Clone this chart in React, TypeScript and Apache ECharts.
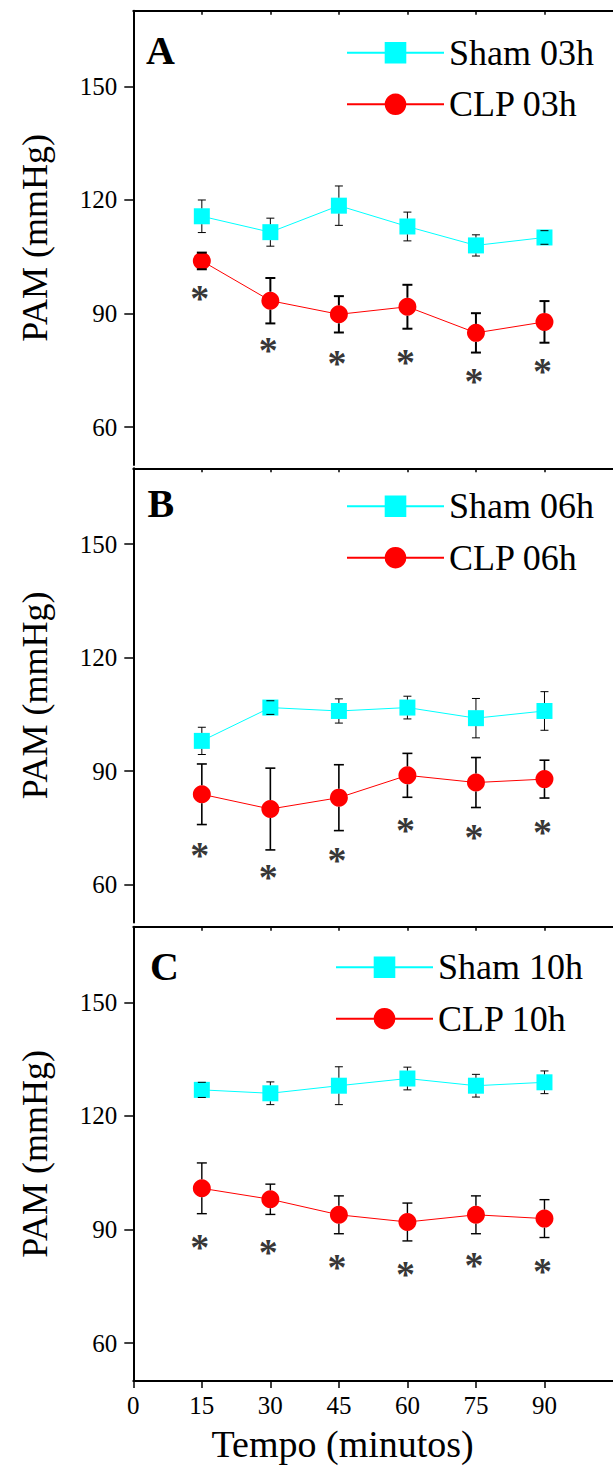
import React, { useEffect, useRef } from "react";
import * as echarts from "echarts";

// ---------- data ----------
const times = [15, 30, 45, 60, 75, 90];
const xTicks = [0, 15, 30, 45, 60, 75, 90];
const yTicks = [60, 90, 120, 150];

const panelLabels = ["A", "B", "C"];
const shamNames = ["Sham 03h", "Sham 06h", "Sham 10h"];
const clpNames = ["CLP 03h", "CLP 06h", "CLP 10h"];

// Panel A (03h)
const sham03 = [115.7, 111.5, 118.5, 113.0, 108.0, 110.1];
const sham03Err = [4.3, 3.7, 5.2, 3.8, 2.8, 1.8];
const clp03 = [103.9, 93.4, 89.8, 91.8, 84.9, 87.8];
const clp03Err = [2.2, 6.0, 4.8, 5.8, 5.2, 5.5];
const star03 = [95.7, 82.0, 78.5, 78.9, 73.7, 76.3];

// Panel B (06h)
const sham06 = [98.0, 106.8, 105.9, 106.8, 104.0, 105.9];
const sham06Err = [3.6, 1.8, 3.2, 3.0, 5.2, 5.1];
const clp06 = [83.9, 80.0, 83.0, 88.9, 87.0, 87.9];
const clp06Err = [8.0, 10.8, 8.7, 5.8, 6.6, 5.0];
const star06 = [69.4, 63.7, 68.1, 76.0, 74.3, 75.6];

// Panel C (10h)
const sham10 = [126.9, 126.0, 128.0, 129.9, 128.0, 128.9];
const sham10Err = [2.0, 3.0, 5.0, 3.0, 3.0, 3.0];
const clp10 = [100.9, 98.0, 93.9, 92.0, 93.9, 92.9];
const clp10Err = [6.7, 4.0, 5.0, 5.0, 5.0, 5.0];
const star10 = [87.1, 85.6, 81.6, 79.8, 82.3, 80.7];

const shamMeans = [sham03, sham06, sham10];
const shamErrs = [sham03Err, sham06Err, sham10Err];
const clpMeans = [clp03, clp06, clp10];
const clpErrs = [clp03Err, clp06Err, clp10Err];
const stars = [star03, star06, star10];

// ---------- layout ----------
const FONT = "'Liberation Serif', 'Times New Roman', serif";
const gridTops = [10.7, 468.3, 926.7];
const gridHeight = 454.3;
const gridLeft = 133.3;
const gridWidth = 514;
const legendTops = [34.8, 488.2, 949.2];
const legendLefts = [346, 346, 335];
const letterPos = [
  [146, 50.2],
  [147.5, 503.7],
  [150, 966.3],
];
const clpErrWidth = [2, 1.6, 1.4];

function makeErr(r: number, cap: number, w: number) {
  return (params: any, api: any) => {
    const x = api.value(0);
    const m = api.value(1);
    const e = api.value(2);
    const c = api.coord([x, m]);
    const t = api.coord([x, m + e]);
    const b = api.coord([x, m - e]);
    const style = { stroke: "#000", lineWidth: w, fill: "none" };
    const children: any[] = [];
    if (c[1] - t[1] > r) {
      children.push({ type: "line", shape: { x1: c[0], y1: t[1], x2: c[0], y2: c[1] - r }, style });
    }
    if (b[1] - c[1] > r) {
      children.push({ type: "line", shape: { x1: c[0], y1: c[1] + r, x2: c[0], y2: b[1] }, style });
    }
    children.push({ type: "line", shape: { x1: c[0] - cap, y1: t[1], x2: c[0] + cap, y2: t[1] }, style });
    children.push({ type: "line", shape: { x1: c[0] - cap, y1: b[1], x2: c[0] + cap, y2: b[1] }, style });
    return { type: "group", children };
  };
}

export default function App() {
  const ref = useRef<HTMLDivElement>(null);

  useEffect(() => {
    if (!ref.current) return;
    const chart = echarts.init(ref.current, undefined, { renderer: "svg" });

    const grid = gridTops.map((top) => ({
      left: gridLeft,
      top,
      width: gridWidth,
      height: gridHeight,
      containLabel: false,
    }));

    const bottomAxes = gridTops.map((_, i) => ({
      type: "value",
      gridIndex: i,
      position: "bottom",
      min: 0,
      max: 105,
      interval: 15,
      name: i === 2 ? "Tempo (minutos)" : "",
      nameLocation: "middle",
      nameGap: 44,
      nameTextStyle: {
        fontFamily: FONT,
        fontSize: 38,
        color: "#000",
        padding: [0, 61, 0, 0],
      },
      axisLine: { show: i === 2, onZero: false, lineStyle: { color: "#000", width: 2 } },
      axisTick: {
        show: i === 2,
        inside: false,
        length: 7,
        customValues: xTicks,
        lineStyle: { color: "#000", width: 1.5 },
      },
      axisLabel: {
        show: i === 2,
        customValues: xTicks,
        margin: 12,
        fontFamily: FONT,
        fontSize: 25,
        color: "#000",
      },
      splitLine: { show: false },
    }));

    const topAxes = gridTops.map((_, i) => ({
      type: "value",
      gridIndex: i,
      position: "top",
      min: 0,
      max: 105,
      interval: 15,
      axisLine: { show: true, onZero: false, lineStyle: { color: "#000", width: 2 } },
      axisTick: {
        show: true,
        inside: true,
        length: 4,
        customValues: xTicks,
        lineStyle: { color: "#000", width: 1.5 },
      },
      axisLabel: { show: false },
      splitLine: { show: false },
    }));

    const yAxes = gridTops.map((_, i) => ({
      type: "value",
      gridIndex: i,
      min: 50,
      max: 170,
      name: "PAM (mmHg)",
      nameLocation: "middle",
      nameGap: 80,
      nameTextStyle: { fontFamily: FONT, fontSize: 36, color: "#000" },
      axisLine: { show: true, onZero: false, lineStyle: { color: "#000", width: 2 } },
      axisTick: {
        show: true,
        inside: false,
        length: 9,
        customValues: yTicks,
        lineStyle: { color: "#000", width: 1.5 },
      },
      axisLabel: {
        customValues: yTicks,
        margin: 16,
        fontFamily: FONT,
        fontSize: 25,
        color: "#000",
      },
      splitLine: { show: false },
    }));

    const series: any[] = [];
    gridTops.forEach((_, i) => {
      series.push({
        name: shamNames[i],
        type: "line",
        xAxisIndex: i,
        yAxisIndex: i,
        data: times.map((t, k) => [t, shamMeans[i][k]]),
        symbol: "rect",
        symbolSize: 16,
        itemStyle: { color: "#00FFFF" },
        lineStyle: { color: "#00FFFF", width: 1 },
        z: 2,
      });
      series.push({
        name: clpNames[i],
        type: "line",
        xAxisIndex: i,
        yAxisIndex: i,
        data: times.map((t, k) => [t, clpMeans[i][k]]),
        symbol: "circle",
        symbolSize: 18,
        itemStyle: { color: "#FF0000" },
        lineStyle: { color: "#FF0000", width: 1 },
        z: 2,
      });
      series.push({
        type: "custom",
        xAxisIndex: i,
        yAxisIndex: i,
        data: times.map((t, k) => [t, shamMeans[i][k], shamErrs[i][k]]),
        encode: { x: 0, y: 1 },
        renderItem: makeErr(8, 4, 1),
        z: 3,
        silent: true,
      });
      series.push({
        type: "custom",
        xAxisIndex: i,
        yAxisIndex: i,
        data: times.map((t, k) => [t, clpMeans[i][k], clpErrs[i][k]]),
        encode: { x: 0, y: 1 },
        renderItem: makeErr(9, 5, clpErrWidth[i]),
        z: 3,
        silent: true,
      });
      series.push({
        type: "scatter",
        xAxisIndex: i,
        yAxisIndex: i,
        data: times.map((t, k) => [t, stars[i][k]]),
        symbol: "circle",
        symbolSize: 1,
        itemStyle: { color: "rgba(0,0,0,0)" },
        label: {
          show: true,
          position: "inside",
          formatter: "*",
          fontFamily: FONT,
          fontSize: 38,
          fontWeight: "bold",
          color: "#000",
          textBorderWidth: 0,
          offset: [-2, 6],
        },
        z: 4,
        silent: true,
      });
    });

    const legend = gridTops.map((_, i) => ({
      data: [shamNames[i], clpNames[i]],
      orient: "vertical",
      left: legendLefts[i],
      top: legendTops[i],
      itemWidth: 97,
      itemHeight: 27,
      itemGap: 15.5,
      padding: 0,
      selectedMode: false,
      textStyle: { fontFamily: FONT, fontSize: 36, color: "#000", lineHeight: 27 },
    }));

    const graphic = panelLabels.map((txt, i) => ({
      type: "text",
      left: letterPos[i][0],
      top: letterPos[i][1] - 20,
      style: {
        text: txt,
        fontFamily: FONT,
        fontSize: 40,
        fontWeight: "bold",
        fill: "#000",
      },
      z: 10,
    }));

    chart.setOption({
      animation: false,
      backgroundColor: "#fff",
      textStyle: { fontFamily: FONT },
      grid,
      xAxis: [...bottomAxes, ...topAxes],
      yAxis: yAxes,
      legend,
      graphic,
      series,
    });

    return () => {
      chart.dispose();
    };
  }, []);

  return (
    <div
      ref={ref}
      style={{ position: "absolute", left: 0, top: 0, width: 613, height: 1468 }}
    />
  );
}
